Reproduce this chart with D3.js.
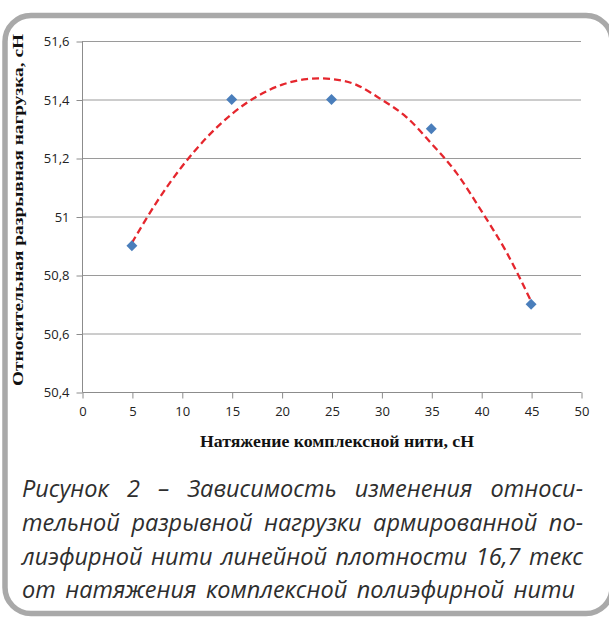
<!DOCTYPE html>
<html><head><meta charset="utf-8">
<script src="https://cdn.jsdelivr.net/npm/d3@7"></script>
<style>html,body{margin:0;padding:0;background:#fff;}svg{display:block;}</style>
</head><body>
<script>
const pointX = [5, 15, 25, 35, 45];
const pointY = [50.9, 51.4, 51.4, 51.3, 50.7];
const trendX = [5, 7.5, 10, 12.5, 15, 17.5, 20, 22.5, 25, 27.5, 30, 32.5, 35, 37.5, 40, 42.5, 45];
const trendY = [50.91, 51.05, 51.17, 51.27, 51.35, 51.41, 51.45, 51.47, 51.47, 51.45, 51.40, 51.34, 51.25, 51.15, 51.02, 50.88, 50.71];
const xTicks = [0, 5, 10, 15, 20, 25, 30, 35, 40, 45, 50];
const yTicks = [50.4, 50.6, 50.8, 51, 51.2, 51.4, 51.6];
const yTickLabels = ["50,4", "50,6", "50,8", "51", "51,2", "51,4", "51,6"];
const xTitle = "Натяжение комплексной нити, сН";
const yTitle = "Относительная разрывная нагрузка, сН";
const captionLines = [
  "Рисунок 2 – Зависимость изменения относи-",
  "тельной разрывной нагрузки армированной по-",
  "лиэфирной нити линейной плотности 16,7 текс",
  "от натяжения комплексной полиэфирной нити"
];

const W = 609, H = 618;
const svg = d3.select("body").append("svg").attr("width", W).attr("height", H);

// frame
svg.append("rect").attr("x", 5).attr("y", 15.5).attr("width", 607).attr("height", 598)
  .attr("rx", 26).attr("fill", "#fff").attr("stroke", "#a9a9a9").attr("stroke-width", 5.5);

const x = d3.scaleLinear().domain([0, 50]).range([82, 581]);
const y = d3.scaleLinear().domain([50.4, 51.6]).range([392, 41]);

const axisColor = "#8c8c8c";
// gridlines
svg.append("g").selectAll("line").data(yTicks.slice(1)).join("line")
  .attr("x1", x(0)).attr("x2", x(50)).attr("y1", d => y(d) + 0.5).attr("y2", d => y(d) + 0.5)
  .attr("stroke", "#9a9a9a").attr("stroke-width", 1);

// y axis
const yAxis = d3.axisLeft(y).tickValues(yTicks).tickSize(6).tickPadding(7)
  .tickFormat((d, i) => yTickLabels[i]);
const gy = svg.append("g").attr("transform", `translate(${x(0) + 0.5},0.5)`).call(yAxis);
gy.select(".domain").attr("stroke", axisColor).attr("d", `M0,${y(51.6)}V${y(50.4)}`);
gy.selectAll(".tick line").attr("stroke", axisColor);
gy.selectAll(".tick text").attr("font-family", "'Open Sans', sans-serif").attr("font-size", 13).attr("fill", "#222");

// x axis
const xAxis = d3.axisBottom(x).tickValues(xTicks).tickSize(6).tickPadding(8).tickFormat(d => String(d));
const gx = svg.append("g").attr("transform", `translate(0.5,${y(50.4) + 0.5})`).call(xAxis);
gx.select(".domain").attr("stroke", axisColor).attr("d", `M${x(0)},0H${x(50)}`);
gx.selectAll(".tick line").attr("stroke", axisColor);
gx.selectAll(".tick text").attr("font-family", "'Open Sans', sans-serif").attr("font-size", 13).attr("fill", "#222");

// titles
svg.append("text").attr("x", 337).attr("y", 447).attr("text-anchor", "middle")
  .attr("font-family", "'Liberation Serif', serif").attr("font-weight", "bold").attr("font-size", 17)
  .attr("textLength", 274).attr("lengthAdjust", "spacingAndGlyphs")
  .attr("fill", "#111").text(xTitle);
svg.append("text").attr("transform", "translate(23,210) rotate(-90)").attr("text-anchor", "middle")
  .attr("font-family", "'Liberation Serif', serif").attr("font-weight", "bold").attr("font-size", 14.5)
  .attr("textLength", 352).attr("lengthAdjust", "spacingAndGlyphs")
  .attr("fill", "#111").text(yTitle);

// trend line
const trend = trendX.map((d, i) => [d, trendY[i]]);
svg.append("path").datum(trend)
  .attr("d", d3.line().x(d => x(d[0])).y(d => y(d[1])).curve(d3.curveNatural))
  .attr("fill", "none").attr("stroke", "#e5262d").attr("stroke-width", 2.3)
  .attr("stroke-dasharray", "7,4");

// points
svg.append("g").selectAll("path").data(pointX.map((d, i) => [d, pointY[i]])).join("path")
  .attr("d", d3.symbol().type(d3.symbolSquare).size(60))
  .attr("transform", d => `translate(${x(d[0])},${y(d[1])}) rotate(45)`)
  .attr("fill", "#4a7ebb");

// caption, justified
const capLeft = 22;
const capRights = [583, 583, 583, 575];
const capBase = [497, 531, 565, 598];
const fs = 23.5;
captionLines.forEach((line, li) => {
  const words = line.split(" ");
  const g = svg.append("g");
  const nodes = words.map(w => g.append("text").attr("y", capBase[li])
    .attr("font-family", "'Open Sans', sans-serif").attr("font-style", "italic")
    .attr("font-size", fs).attr("fill", "#2e2e2e").text(w));
  const widths = nodes.map(n => n.node().getComputedTextLength());
  const total = d3.sum(widths);
  const avail = capRights[li] - capLeft;
  let gap = (avail - total) / (words.length - 1);
  let scale = 1;
  if (gap < 5) { gap = 5; scale = (avail - gap * (words.length - 1)) / total; }
  let cx = capLeft;
  nodes.forEach((n, i) => {
    if (scale !== 1) {
      n.attr("textLength", widths[i] * scale).attr("lengthAdjust", "spacingAndGlyphs");
    }
    n.attr("x", cx);
    cx += widths[i] * scale + gap;
  });
});
</script>
</body></html>
